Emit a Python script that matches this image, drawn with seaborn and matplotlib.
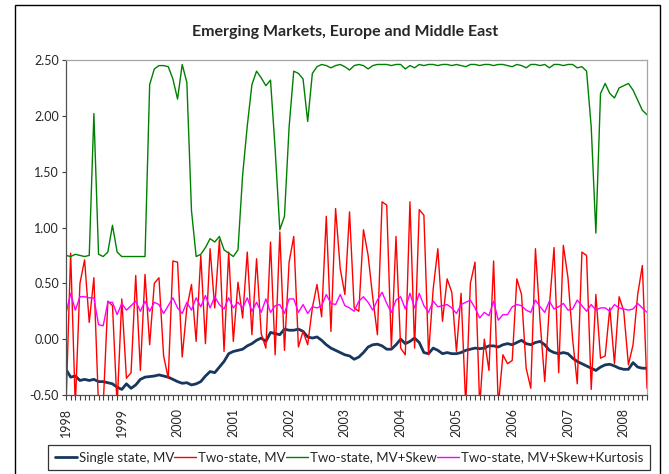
import matplotlib
matplotlib.use("Agg")
import matplotlib.pyplot as plt
from matplotlib.patches import Rectangle
from matplotlib.ticker import FixedLocator, MultipleLocator, FormatStrFormatter
import numpy as np
import pandas as pd
import seaborn as sns

# Monthly values, Jan 1998 - Jun 2008 (one row per year)
single_state_mv = [
    -0.27, -0.34, -0.33, -0.37, -0.36, -0.37, -0.36, -0.38, -0.38, -0.39, -0.40, -0.43,
    -0.45, -0.40, -0.44, -0.41, -0.36, -0.34, -0.335, -0.33, -0.32, -0.33, -0.34, -0.36,
    -0.38, -0.395, -0.39, -0.41, -0.40, -0.38, -0.33, -0.29, -0.30, -0.25, -0.20, -0.13,
    -0.11, -0.10, -0.09, -0.06, -0.04, -0.01, 0.01, -0.02, 0.06, 0.05, 0.04, 0.09,
    0.08, 0.08, 0.09, 0.07, 0.02, 0.01, 0.02, -0.01, -0.05, -0.08, -0.10, -0.12,
    -0.14, -0.15, -0.18, -0.16, -0.12, -0.07, -0.05, -0.045, -0.06, -0.09, -0.09, -0.05,
    0.00, -0.04, -0.02, 0.01, -0.03, -0.12, -0.13, -0.08, -0.10, -0.13, -0.12, -0.13,
    -0.13, -0.12, -0.10, -0.09, -0.08, -0.085, -0.08, -0.06, -0.06, -0.07, -0.05, -0.04,
    -0.05, -0.03, -0.01, -0.04, -0.05, -0.03, -0.02, -0.05, -0.10, -0.12, -0.13, -0.12,
    -0.13, -0.17, -0.20, -0.22, -0.24, -0.26, -0.28, -0.25, -0.23, -0.225, -0.24, -0.26,
    -0.27, -0.27, -0.21, -0.25, -0.26, -0.26,
]

two_state_mv = [
    -0.6, 0.77, -0.6, 0.50, 0.71, 0.15, 0.55, -0.6, -0.6, 0.34, 0.30, -0.6,
    0.36, -0.35, -0.30, 0.57, -0.28, 0.58, -0.05, 0.50, 0.55, -0.15, -0.35, 0.70,
    0.69, -0.16, 0.28, 0.49, -0.02, 0.75, -0.04, 0.81, 0.28, 0.89, -0.11, 0.78,
    -0.02, 0.51, 0.19, 0.78, 0.04, 0.72, 0.05, -0.08, 0.87, -0.14, 0.96, -0.10,
    0.69, 0.92, -0.07, 0.07, -0.05, 0.28, 0.49, 0.20, 1.10, 0.07, 1.17, 0.63,
    0.40, 1.14, 0.28, 0.25, 0.98, 0.75, 0.37, 0.04, 1.23, 1.20, -0.08, 0.92,
    -0.08, -0.14, 1.23, -0.08, 1.16, 1.11, -0.14, 0.45, 0.81, 0.16, 0.54, 0.42,
    -0.11, 0.41, -0.6, 0.50, 0.69, -0.6, 0.00, -0.28, 0.70, -0.6, -0.14, -0.22,
    -0.19, 0.54, 0.40, -0.26, -0.44, 0.81, 0.16, -0.38, 0.30, 0.82, -0.30, 0.84,
    0.55, 0.00, -0.40, 0.78, 0.75, -0.45, 0.40, -0.17, -0.15, 0.28, -0.22, 0.38,
    0.25, -0.23, -0.05, 0.40, 0.66, -0.44,
]

two_state_skew = [
    0.75, 0.74, 0.76, 0.75, 0.74, 0.75, 2.02, 0.76, 0.74, 0.78, 1.02, 0.78,
    0.74, 0.74, 0.74, 0.74, 0.74, 0.74, 2.28, 2.42, 2.45, 2.45, 2.44, 2.33,
    2.15, 2.46, 2.30, 1.15, 0.74, 0.76, 0.82, 0.90, 0.87, 0.92, 0.80, 0.77,
    0.74, 0.80, 1.47, 1.91, 2.28, 2.40, 2.34, 2.27, 2.32, 1.70, 0.98, 1.10,
    1.90, 2.40, 2.38, 2.33, 1.95, 2.38, 2.44, 2.46, 2.45, 2.43, 2.45, 2.46,
    2.44, 2.41, 2.45, 2.46, 2.45, 2.42, 2.45, 2.46, 2.46, 2.46, 2.45, 2.46,
    2.46, 2.42, 2.45, 2.43, 2.46, 2.45, 2.46, 2.46, 2.45, 2.46, 2.46, 2.45,
    2.46, 2.45, 2.44, 2.46, 2.46, 2.45, 2.46, 2.46, 2.45, 2.46, 2.46, 2.45,
    2.44, 2.46, 2.45, 2.43, 2.46, 2.46, 2.45, 2.46, 2.43, 2.46, 2.46, 2.45,
    2.46, 2.46, 2.43, 2.44, 2.40, 1.90, 0.95, 2.20, 2.29, 2.20, 2.16, 2.25,
    2.27, 2.29, 2.23, 2.14, 2.05, 2.01,
]

two_state_kurt = [
    0.23, 0.41, 0.26, 0.38, 0.38, 0.37, 0.37, 0.13, 0.12, 0.33, 0.33, 0.22,
    0.32, 0.26, 0.30, 0.34, 0.25, 0.34, 0.25, 0.33, 0.31, 0.23, 0.30, 0.37,
    0.28, 0.23, 0.33, 0.26, 0.37, 0.29, 0.39, 0.28, 0.38, 0.31, 0.27, 0.37,
    0.28, 0.33, 0.28, 0.37, 0.25, 0.33, 0.24, 0.36, 0.24, 0.30, 0.31, 0.23,
    0.36, 0.36, 0.24, 0.31, 0.23, 0.29, 0.28, 0.30, 0.40, 0.32, 0.31, 0.40,
    0.30, 0.28, 0.25, 0.34, 0.38, 0.33, 0.26, 0.35, 0.42, 0.32, 0.24, 0.35,
    0.38, 0.27, 0.41, 0.28, 0.41, 0.30, 0.24, 0.34, 0.29, 0.30, 0.31, 0.28,
    0.23, 0.31, 0.33, 0.35, 0.28, 0.19, 0.24, 0.21, 0.34, 0.17, 0.22, 0.22,
    0.29, 0.31, 0.30, 0.26, 0.24, 0.35, 0.29, 0.24, 0.34, 0.27, 0.29, 0.32,
    0.26, 0.27, 0.35, 0.30, 0.25, 0.31, 0.26, 0.28, 0.28, 0.25, 0.31, 0.28,
    0.27, 0.26, 0.27, 0.32, 0.28, 0.24,
]

year_labels = ["1998", "1999", "2000", "2001", "2002", "2003",
               "2004", "2005", "2006", "2007", "2008"]
y_ticks = [-0.5, 0.0, 0.5, 1.0, 1.5, 2.0, 2.5]

series = [
    ("Single state, MV", single_state_mv, "#17375E", 2.0),
    ("Two-state, MV", two_state_mv, "#FF0000", 1.0),
    ("Two-state, MV+Skew", two_state_skew, "#008000", 1.0),
    ("Two-state, MV+Skew+Kurtosis", two_state_kurt, "#FF00FF", 1.0),
]

sns.set_style("white")
plt.rcParams["font.family"] = ["Lato", "DejaVu Sans"]

df = pd.DataFrame({name: vals for name, vals, _, _ in series})
df["month"] = np.arange(len(df))

fig = plt.figure(figsize=(6.69, 4.74), dpi=100)
W, H = 669, 474
ax = fig.add_axes([66 / W, 1 - 395 / H, (647 - 66) / W, (395 - 60) / H])

for name, _, color, lw in series:
    sns.lineplot(data=df, x="month", y=name, color=color, linewidth=lw,
                 label=name, ax=ax, legend=False)

ax.set_xlim(0, len(df) - 1)
ax.set_ylim(-0.5, 2.5)
ax.set_xlabel("")
ax.set_ylabel("")

ax.xaxis.set_major_locator(FixedLocator([12 * i for i in range(len(year_labels))]))
ax.set_xticklabels(year_labels, rotation=90)
ax.xaxis.set_minor_locator(MultipleLocator(1))
ax.set_yticks(y_ticks)
ax.yaxis.set_major_formatter(FormatStrFormatter("%.2f"))
ax.tick_params(axis="x", which="both", direction="out", length=3.5, width=0.8,
               color="#404040", bottom=True, labelsize=9, pad=6)
ax.tick_params(axis="y", direction="out", length=3, width=0.8,
               color="#404040", left=True, labelsize=9, pad=2)

for side in ["left", "bottom"]:
    ax.spines[side].set_color("#505050")
    ax.spines[side].set_linewidth(0.9)
for side in ["top", "right"]:
    ax.spines[side].set_color("#a6a6a6")
    ax.spines[side].set_linewidth(0.9)

fig.text(345 / W, 1 - 32 / H, "Emerging Markets, Europe and Middle East",
         ha="center", va="center", fontsize=11.5, fontweight="bold")

# outer chart border
fig.patches.append(Rectangle((15 / W, -0.05), (660 - 15) / W, 1.05 - 5 / H,
                             transform=fig.transFigure, fill=False,
                             edgecolor="black", linewidth=1.0))

handles, labels = ax.get_legend_handles_labels()
leg = fig.legend(handles, labels, loc="upper left", ncol=4, mode="expand",
                 bbox_to_anchor=(48 / W, 0.0, (650 - 48) / W, 1 - 445 / H),
                 fontsize=9.5, frameon=True, fancybox=False, handlelength=1.7,
                 handletextpad=0.15, borderpad=0.5, borderaxespad=0.0)
leg.get_frame().set_edgecolor("black")
leg.get_frame().set_linewidth(0.9)

fig.savefig("out.png", dpi=100)
